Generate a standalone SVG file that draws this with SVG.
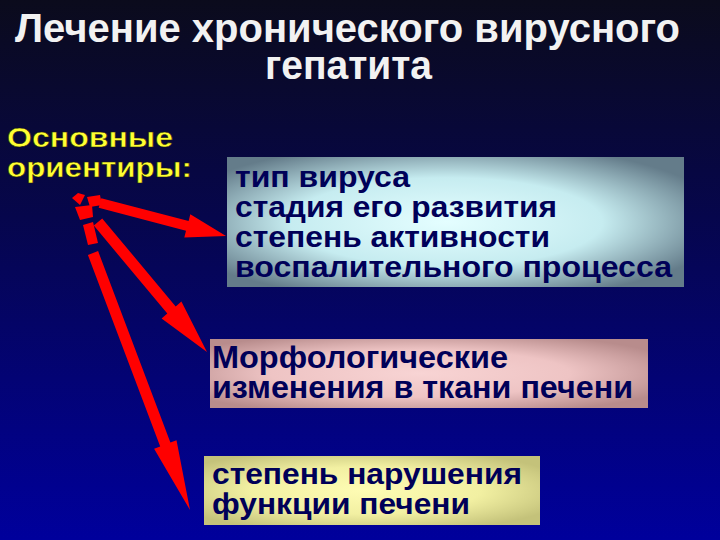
<svg xmlns="http://www.w3.org/2000/svg" width="720" height="540" viewBox="0 0 720 540">
<defs>
<linearGradient id="bg" x1="0" y1="0" x2="0" y2="1">
<stop offset="0" stop-color="#0b0b1c"/>
<stop offset="0.4" stop-color="#06064c"/>
<stop offset="1" stop-color="#00009c"/>
</linearGradient>
<radialGradient id="g1" cx="0.48" cy="0.5" r="0.62">
<stop offset="0" stop-color="#e4feff"/>
<stop offset="0.55" stop-color="#c6ecf0"/>
<stop offset="1" stop-color="#647c8a"/>
</radialGradient>
<radialGradient id="g2" cx="0.48" cy="0.5" r="0.62">
<stop offset="0" stop-color="#f8d4d4"/>
<stop offset="0.55" stop-color="#eec4c4"/>
<stop offset="1" stop-color="#b88c8c"/>
</radialGradient>
<radialGradient id="g3" cx="0.48" cy="0.5" r="0.62">
<stop offset="0" stop-color="#fefcb4"/>
<stop offset="0.55" stop-color="#f2f0a2"/>
<stop offset="1" stop-color="#c4c27a"/>
</radialGradient>
</defs>
<style>
.title{font-family:"Liberation Sans",Arial,sans-serif;font-weight:bold;fill:#f2f2f2}
.lbl{font-family:"Liberation Sans",Arial,sans-serif;font-weight:bold;fill:#ffff33;stroke:#202000;stroke-width:0.5}
.bt{font-family:"Liberation Sans",Arial,sans-serif;font-weight:bold;fill:#000058}
.arrow{fill:#ff0000}
</style>
<rect width="720" height="540" fill="url(#bg)"/>
<g id="title">
<text class="title" x="15" y="42" font-size="40" textLength="665" lengthAdjust="spacingAndGlyphs">Лечение хронического вирусного</text>
<text class="title" x="265" y="79" font-size="40" textLength="167" lengthAdjust="spacingAndGlyphs">гепатита</text>
</g>
<g id="label">
<text class="lbl" x="7" y="147" font-size="27" textLength="166" lengthAdjust="spacingAndGlyphs">Основные</text>
<text class="lbl" x="7" y="177" font-size="27" textLength="185" lengthAdjust="spacingAndGlyphs">ориентиры:</text>
</g>
<g id="connectors">
<polygon class="arrow" points="72,198 78,193 85,195 80,205"/>
<polygon class="arrow" points="87,197 100,195 102,205 90,207"/>
<polygon class="arrow" points="75,207 92,205 93,217 80,220"/>
<polygon class="arrow" points="83,225 93,222 98,243 88,245"/>
<polygon class="arrow" points="101.3,198.2 188.6,221.1 190.3,214.3 226,236 184.3,237.5 186,230.7 98.7,207.8"/>
<polygon class="arrow" points="102.2,218.4 175.7,306.4 181.4,301.6 207,352 161.6,318.4 167.3,313.6 93.8,225.6"/>
<polygon class="arrow" points="98.1,251.1 170.4,442.6 176.5,440.3 190,510 154.1,448.7 160.2,446.4 87.9,254.9"/>
</g>
<g id="box1">
<rect x="227" y="157" width="457" height="130" fill="url(#g1)"/>
<text class="bt" x="235" y="187" font-size="30" textLength="175" lengthAdjust="spacingAndGlyphs">тип вируса</text>
<text class="bt" x="235" y="217" font-size="30" textLength="322" lengthAdjust="spacingAndGlyphs">стадия его развития</text>
<text class="bt" x="235" y="247" font-size="30" textLength="315" lengthAdjust="spacingAndGlyphs">степень активности</text>
<text class="bt" x="235" y="277" font-size="30" textLength="437" lengthAdjust="spacingAndGlyphs">воспалительного процесса</text>
</g>
<g id="box2">
<rect x="210" y="339" width="438" height="69" fill="url(#g2)"/>
<text class="bt" x="212" y="368" font-size="31" textLength="296" lengthAdjust="spacingAndGlyphs">Морфологические</text>
<text class="bt" x="212" y="398" font-size="31" textLength="421" lengthAdjust="spacingAndGlyphs">изменения в ткани печени</text>
</g>
<g id="box3">
<rect x="204" y="456" width="336" height="69" fill="url(#g3)"/>
<text class="bt" x="212" y="484" font-size="30" textLength="310" lengthAdjust="spacingAndGlyphs">степень нарушения</text>
<text class="bt" x="212" y="514" font-size="30" textLength="258" lengthAdjust="spacingAndGlyphs">функции печени</text>
</g>
</svg>
